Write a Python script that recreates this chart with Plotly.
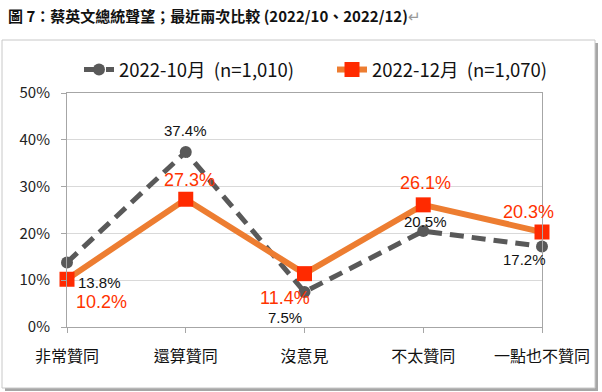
import plotly.graph_objects as go

categories = ["非常贊同", "還算贊同", "沒意見", "不太贊同", "一點也不贊同"]
oct_values = [13.8, 37.4, 7.5, 20.5, 17.2]
dec_values = [10.2, 27.3, 11.4, 26.1, 20.3]
oct_name = "2022-10月  (n=1,010)"
dec_name = "2022-12月  (n=1,070)"
y_ticks = [0, 10, 20, 30, 40, 50]
title_text = "圖 7：蔡英文總統聲望；最近兩次比較 (2022/10、2022/12)"

# label offsets in pixels (style, not data)
oct_shift = [(32, -20), (0, 21), (-20, -26), (2, 10), (-18, -13)]
dec_shift = [(34, -23), (4, 19), (-20, -24), (2, 22), (-14, 20)]

W, H = 602, 392
L, R, T, B = 67, 60, 93, 65
pw, ph = W - L - R, H - T - B

def px_x(p):
    return (p - L) / pw

def px_y(p):
    return (H - B - p) / ph

xs = list(range(len(categories)))
fig = go.Figure()
fig.add_trace(go.Scatter(
    x=xs, y=oct_values, name=oct_name, mode="lines+markers",
    line=dict(color="#595959", width=5, dash="14px,8px"),
    marker=dict(symbol="circle", size=12, color="#595959"),
    cliponaxis=False, legend="legend",
))
fig.add_trace(go.Scatter(
    x=xs, y=dec_values, name=dec_name, mode="lines+markers",
    line=dict(color="#ED7D31", width=6),
    marker=dict(symbol="square", size=15, color="#FF2A00"),
    cliponaxis=False, legend="legend2",
))

annotations = []
for i, v in enumerate(oct_values):
    annotations.append(dict(x=xs[i], y=v, xref="x", yref="y", text=f"{v:.1f}%",
                            showarrow=False, xshift=oct_shift[i][0], yshift=oct_shift[i][1],
                            font=dict(family="Liberation Sans, Arial", size=15, color="#111111")))
for i, v in enumerate(dec_values):
    annotations.append(dict(x=xs[i], y=v, xref="x", yref="y", text=f"{v:.1f}%",
                            showarrow=False, xshift=dec_shift[i][0], yshift=dec_shift[i][1],
                            font=dict(family="Liberation Sans, Arial", size=18, color="#FF3300")))

shapes = [
    dict(type="rect", xref="paper", yref="paper", layer="below",
         x0=px_x(5), x1=px_x(598), y0=px_y(391), y1=px_y(43),
         fillcolor="#A6A6A6", line=dict(width=0)),
    dict(type="rect", xref="paper", yref="paper", layer="below",
         x0=px_x(2), x1=px_x(595), y0=px_y(388), y1=px_y(40),
         fillcolor="white", line=dict(color="#C8C8C8", width=1)),
]

leg_font = dict(family="Noto Sans CJK TC", size=18.5, color="#111111")
fig.update_layout(
    width=W, height=H,
    margin=dict(l=L, r=R, t=T, b=B, autoexpand=False),
    paper_bgcolor="white", plot_bgcolor="rgba(0,0,0,0)",
    shapes=shapes, annotations=annotations,
    showlegend=True,
    legend=dict(orientation="h", x=px_x(79), xanchor="left", y=px_y(70), yanchor="middle",
                font=leg_font, bgcolor="rgba(0,0,0,0)", itemwidth=30),
    legend2=dict(orientation="h", x=px_x(332), xanchor="left", y=px_y(70), yanchor="middle",
                 font=leg_font, bgcolor="rgba(0,0,0,0)", itemwidth=30),
    title=dict(text=title_text + "<span style='color:#999999;font-weight:normal'>↵</span>",
               xref="container", yref="container", x=8 / W, xanchor="left",
               y=1 - 17 / H, yanchor="middle",
               font=dict(family="Noto Sans CJK TC", size=15, color="#111111", weight="bold")),
    xaxis=dict(
        range=[0, len(categories) - 1], tickmode="array",
        tickvals=xs, ticktext=categories,
        showgrid=False, zeroline=False,
        showline=True, linecolor="#A6A6A6", linewidth=1, mirror=True,
        ticks="outside", ticklen=5, tickcolor="#A6A6A6",
        ticklabelstandoff=10, automargin=False,
        tickfont=dict(family="Noto Sans CJK TC", size=16, color="#111111"),
    ),
    yaxis=dict(
        range=[0, 50], tickvals=y_ticks, ticktext=[f"{v}%" for v in y_ticks],
        showgrid=True, gridcolor="#D9D9D9", gridwidth=1, zeroline=False,
        showline=True, linecolor="#A6A6A6", linewidth=1, mirror=True,
        ticks="outside", ticklen=5, tickcolor="#A6A6A6",
        ticklabelstandoff=8, automargin=False,
        tickfont=dict(family="Noto Sans CJK TC", size=15, color="#222222"),
    ),
)

fig.write_html("out.html", config={"displayModeBar": False},
               post_script="document.body.style.margin='0';document.body.style.overflow='hidden';")
